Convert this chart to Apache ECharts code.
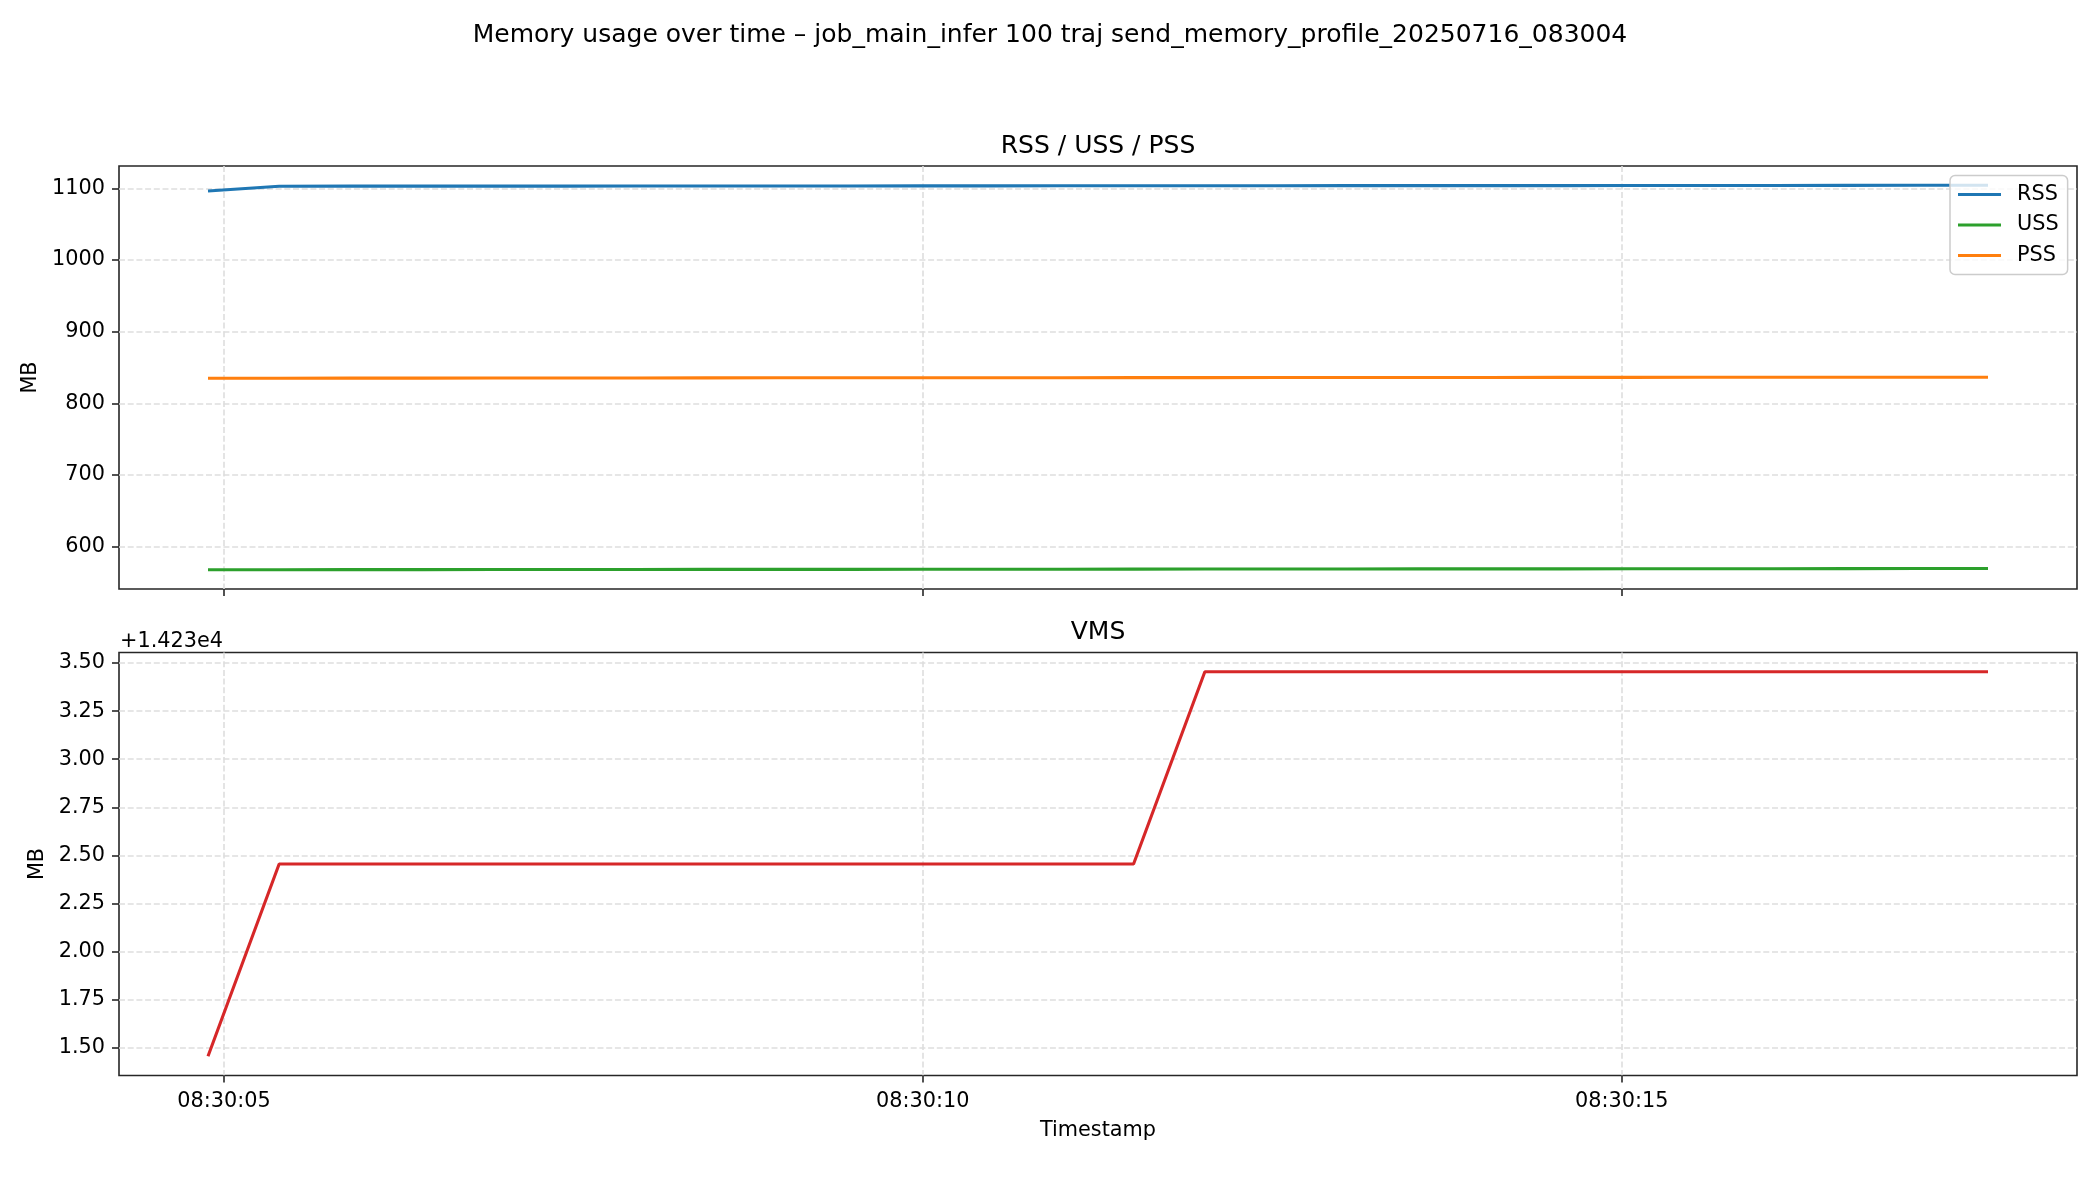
<!DOCTYPE html>
<html>
<head>
<meta charset="utf-8">
<script src="https://cdn.jsdelivr.net/npm/echarts@6/dist/echarts.min.js"></script>
<style>
html,body{margin:0;padding:0;background:#fff;}
#chart{width:2100px;height:1200px;}
</style>
</head>
<body>
<div id="chart"></div>
<script>
// ---- data ----
const timestamps = ['08:30:04.886','08:30:05.395','08:30:05.905','08:30:06.414','08:30:06.924','08:30:07.433',
  '08:30:07.942','08:30:08.452','08:30:08.961','08:30:09.471','08:30:09.980','08:30:10.489','08:30:10.999',
  '08:30:11.508','08:30:12.018','08:30:12.527','08:30:13.036','08:30:13.546','08:30:14.055','08:30:14.565',
  '08:30:15.074','08:30:15.583','08:30:16.093','08:30:16.602','08:30:17.112','08:30:17.621'];
const rssMB = [1096.4,1103.1,1103.2,1103.2,1103.3,1103.3,1103.4,1103.4,1103.5,1103.5,1103.6,1103.6,1103.7,
  1103.7,1103.8,1103.8,1103.9,1103.9,1104.0,1104.0,1104.1,1104.2,1104.2,1104.3,1104.4,1104.5];
const ussMB = [567.8,567.9,568.0,568.0,568.1,568.2,568.2,568.3,568.4,568.4,568.5,568.6,568.6,
  568.7,568.8,568.8,568.9,569.0,569.0,569.1,569.2,569.2,569.3,569.4,569.5,569.6];
const pssMB = [835.1,835.2,835.3,835.3,835.4,835.5,835.5,835.6,835.7,835.7,835.8,835.9,835.9,
  836.0,836.0,836.1,836.1,836.2,836.2,836.3,836.3,836.4,836.4,836.5,836.5,836.6];
const vmsMB = [14231.455,14232.455,14232.455,14232.455,14232.455,14232.455,14232.455,14232.455,14232.455,
  14232.455,14232.455,14232.455,14232.455,14232.455,14233.455,14233.455,14233.455,14233.455,14233.455,
  14233.455,14233.455,14233.455,14233.455,14233.455,14233.455,14233.455];
const xTickLabels = ['08:30:05','08:30:10','08:30:15'];
const topYTicks = [600,700,800,900,1000,1100];
const vmsYTicks = [14231.5,14231.75,14232.0,14232.25,14232.5,14232.75,14233.0,14233.25,14233.5];
const vmsOffset = 14230;
const vmsOffsetText = '+1.423e4';
const seriesNames = ['RSS','USS','PSS'];
const mainTitle = 'Memory usage over time \u2013 job_main_infer 100 traj send_memory_profile_20250716_083004';
const subTitles = ['RSS / USS / PSS','VMS'];

// ---- helpers ----
function toSec(s){ const p = s.split(':'); return (+p[0])*3600 + (+p[1])*60 + parseFloat(p[2]); }
function pad2(n){ return (n<10?'0':'')+n; }
function fmtTime(v){ const t=Math.round(v); const h=Math.floor(t/3600), m=Math.floor((t%3600)/60), s=t%60; return pad2(h)+':'+pad2(m)+':'+pad2(s); }
function margins(arrs){ let lo=Infinity, hi=-Infinity; arrs.forEach(a=>a.forEach(v=>{lo=Math.min(lo,v);hi=Math.max(hi,v);})); const r=hi-lo; return [lo-0.05*r, hi+0.05*r]; }

const tSec = timestamps.map(toSec);
const xTicks = xTickLabels.map(toSec);
const xr = margins([tSec]);
const yTop = margins([rssMB, ussMB, pssMB]);
const yBot = margins([vmsMB]);
const pairs = arr => arr.map((v,i)=>[tSec[i], v]);

const FONT = 'DejaVu Sans';
const FRAME = '#262626';
const GRIDC = '#dedede';

function xAxisCfg(gridIndex, showLabels){
  return {
    type:'value', gridIndex, min:xr[0], max:xr[1],
    axisLine:{show:false},
    axisTick:{show:true, inside:false, length:7, lineStyle:{color:FRAME, width:1.6}, customValues:xTicks},
    axisLabel:{show:showLabels, customValues:xTicks, formatter:fmtTime, margin:16, color:'#000', fontFamily:FONT, fontSize:20.8},
    splitLine:{show:true, lineStyle:{color:GRIDC, width:1.6, type:[6,2.7]}},
    name: showLabels ? 'Timestamp' : '',
    nameLocation:'middle', nameGap:45,
    nameTextStyle:{color:'#000', fontFamily:FONT, fontSize:20.8}
  };
}
function yAxisCfg(gridIndex, rng, ticks, fmt, gap){
  return {
    type:'value', gridIndex, min:rng[0], max:rng[1],
    axisLine:{show:false},
    axisTick:{show:true, inside:false, length:7, lineStyle:{color:FRAME, width:1.6}, customValues:ticks},
    axisLabel:{customValues:ticks, formatter:fmt, margin:14, color:'#000', fontFamily:FONT, fontSize:20.8},
    splitLine:{show:true, lineStyle:{color:GRIDC, width:1.6, type:[6,2.7]}},
    name:'MB', nameLocation:'middle', nameGap:gap, nameRotate:90,
    nameTextStyle:{color:'#000', fontFamily:FONT, fontSize:20.8}
  };
}

const colors = {RSS:'#1f77b4', USS:'#2ca02c', PSS:'#ff7f0e', VMS:'#d62728'};
function lineSeries(name, arr, gi){
  return {
    name, type:'line', xAxisIndex:gi, yAxisIndex:gi, data:pairs(arr),
    symbol:'none', showSymbol:false, clip:true,
    lineStyle:{color:colors[name], width:3.1}, itemStyle:{color:colors[name]},
    emphasis:{disabled:true}
  };
}

const chart = echarts.init(document.getElementById('chart'), null, {renderer:'canvas'});
chart.setOption({
  animation:false,
  backgroundColor:'#ffffff',
  grid:[
    {left:119, top:166, width:1958, height:423, show:true, borderColor:FRAME, borderWidth:1.6, backgroundColor:'transparent', containLabel:false},
    {left:119, top:652.5, width:1958, height:423, show:true, borderColor:FRAME, borderWidth:1.6, backgroundColor:'transparent', containLabel:false}
  ],
  xAxis:[xAxisCfg(0,false), xAxisCfg(1,true)],
  yAxis:[
    yAxisCfg(0, yTop, topYTicks, v=>String(Math.round(v)), 74),
    yAxisCfg(1, yBot, vmsYTicks, v=>(v-vmsOffset).toFixed(2), 69)
  ],
  legend:{
    data:seriesNames.map(n=>({name:n, icon:'rect'})), orient:'vertical', left:1950, top:175.5,
    itemWidth:43, itemHeight:3, itemGap:9.5,
    padding:[8.5,9,8.5,8],
    backgroundColor:'rgba(255,255,255,0.8)', borderColor:'#cccccc', borderWidth:1.5, borderRadius:5,
    textStyle:{color:'#000', fontFamily:FONT, fontSize:20.8, padding:[0,0,0,11]},
    selectedMode:false
  },
  graphic:[
    {type:'text', x:1050, y:35.5, style:{text:mainTitle, fill:'#000', font:'25px "DejaVu Sans"', align:'center', verticalAlign:'middle'}},
    {type:'text', x:1098, y:146, style:{text:subTitles[0], fill:'#000', font:'25px "DejaVu Sans"', align:'center', verticalAlign:'middle'}},
    {type:'text', x:1098, y:632, style:{text:subTitles[1], fill:'#000', font:'25px "DejaVu Sans"', align:'center', verticalAlign:'middle'}},
    {type:'text', x:120, y:642, style:{text:vmsOffsetText, fill:'#000', font:'20.8px "DejaVu Sans"', align:'left', verticalAlign:'middle'}}
  ],
  series:[
    lineSeries('RSS', rssMB, 0),
    lineSeries('USS', ussMB, 0),
    lineSeries('PSS', pssMB, 0),
    lineSeries('VMS', vmsMB, 1)
  ]
});
</script>
</body>
</html>
